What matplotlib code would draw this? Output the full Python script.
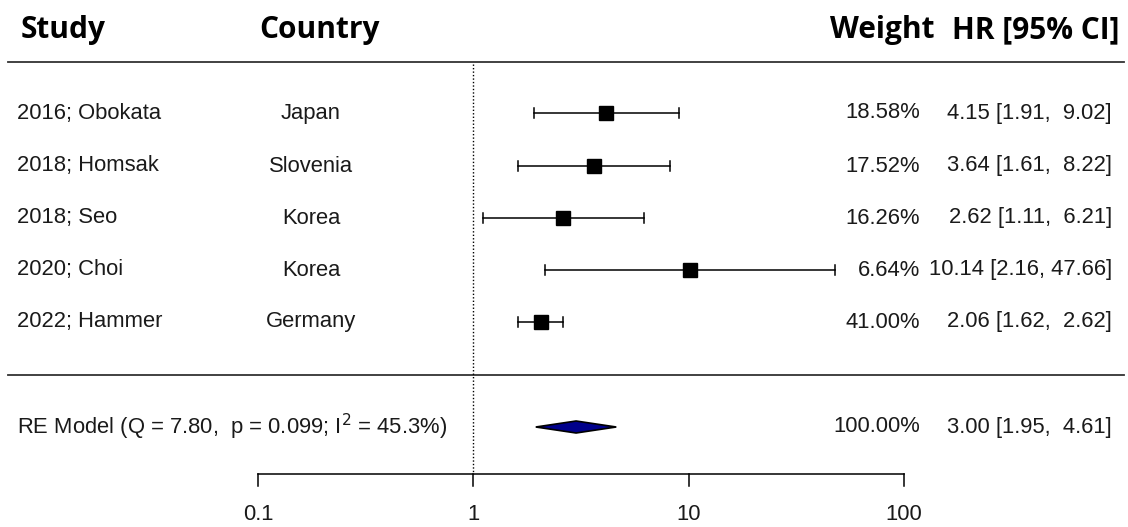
import numpy as np
import matplotlib
matplotlib.use("Agg")
import matplotlib.pyplot as plt
from matplotlib.patches import Polygon

studies = ["2016; Obokata", "2018; Homsak", "2018; Seo", "2020; Choi", "2022; Hammer"]
countries = ["Japan", "Slovenia", "Korea", "Korea", "Germany"]
hr = [4.15, 3.64, 2.62, 10.14, 2.06]
ci_low = [1.91, 1.61, 1.11, 2.16, 1.62]
ci_high = [9.02, 8.22, 6.21, 47.66, 2.62]
weights = [18.58, 17.52, 16.26, 6.64, 41.00]

re_label = "RE Model (Q = 7.80,  p = 0.099; I$^2$ = 45.3%)"
re_hr, re_low, re_high, re_weight = 3.00, 1.95, 4.61, 100.00

ticks = [0.1, 1, 10, 100]
tick_labels = ["0.1", "1", "10", "100"]

W, H = 1128, 527
fig = plt.figure(figsize=(W / 100, H / 100), dpi=100)
ax = fig.add_axes([0, 0, 1, 1])
ax.set_xscale("log")
# horizontal extent: 0.1 sits at px 258, 100 at px 904
ppd = (904 - 258) / 3.0
ax.set_xlim(10 ** (-1 - 258 / ppd), 10 ** (-1 + (W - 258) / ppd))
ax.set_ylim(H, 0)
ax.axis("off")

def fx(px):
    return px / W

tr = ax.get_yaxis_transform()  # x in axes fraction, y in data (pixels)
body = dict(family="Liberation Sans", fontsize=15.8, color="#1a1a1a")
head = dict(family="Open Sans", fontsize=21.5, fontweight="bold", color="black")

# headers
hy = 30
ax.text(fx(21), hy, "Study", transform=tr, ha="left", va="center", **head)
ax.text(fx(259), hy, "Country", transform=tr, ha="left", va="center", **head)
ax.text(fx(935), hy, "Weight", transform=tr, ha="right", va="center", **head)
ax.text(fx(1120), hy, "HR [95% CI]", transform=tr, ha="right", va="center", **head)

# separator lines
for y in (62, 375):
    ax.plot([fx(8), fx(1124)], [y, y], transform=tr, color="#333333", lw=1.3)

# null line
ax.plot([1, 1], [64, 474], color="black", lw=1.0, ls=(0, (1, 1.5)))

rows_y = [113, 166, 218, 270, 322]
cap = 5
for i, y in enumerate(rows_y):
    ax.plot([ci_low[i], ci_high[i]], [y, y], color="black", lw=1.1)
    for v in (ci_low[i], ci_high[i]):
        ax.plot([v, v], [y - cap, y + cap], color="black", lw=1.1)
    ax.plot([hr[i]], [y], marker="s", ms=10, color="black", mec="black")
    ax.text(fx(17), y, studies[i], transform=tr, ha="left", va="center", **body)
    ax.text(fx(311), y, countries[i], transform=tr, ha="center", va="center", **body)
    ax.text(fx(920), y, f"{weights[i]:.2f}%", transform=tr, ha="right", va="center", **body)
    hi = f"{ci_high[i]:.2f}"
    sep = ",  " if ci_high[i] < 10 else ", "
    ax.text(fx(1112), y, f"{hr[i]:.2f} [{ci_low[i]:.2f}{sep}{hi}]", transform=tr,
            ha="right", va="center", **body)

# summary diamond
ry = 427
dh = 6
ax.add_patch(Polygon([[re_low, ry], [re_hr, ry - dh], [re_high, ry], [re_hr, ry + dh]],
                     closed=True, facecolor="#00008b", edgecolor="black", lw=1.2))
ax.text(fx(17), ry, re_label, transform=tr, ha="left", va="center", **body)
ax.text(fx(920), ry, f"{re_weight:.2f}%", transform=tr, ha="right", va="center", **body)
ax.text(fx(1112), ry, f"{re_hr:.2f} [{re_low:.2f},  {re_high:.2f}]", transform=tr,
        ha="right", va="center", **body)

# x axis
ay = 474
ax.plot([ticks[0], ticks[-1]], [ay, ay], color="black", lw=1.1)
for t, lab in zip(ticks, tick_labels):
    ax.plot([t, t], [ay, ay + 12], color="black", lw=1.1)
    ax.text(t, 514, lab, ha="center", va="center", **body)

fig.savefig("out.png", dpi=100)
